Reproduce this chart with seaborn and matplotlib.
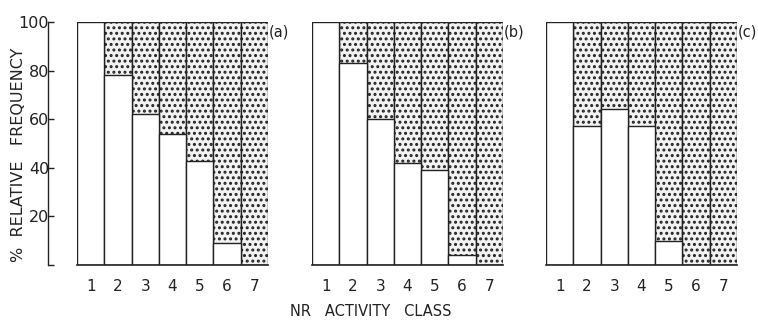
import matplotlib
matplotlib.use("Agg")
import matplotlib.pyplot as plt
import seaborn as sns
import pandas as pd

classes = ["1", "2", "3", "4", "5", "6", "7"]
panel_labels = ["(a)", "(b)", "(c)"]
white_a = [100, 78, 62, 54, 43, 9, 0]
white_b = [100, 83, 60, 42, 39, 4, 0]
white_c = [100, 57, 64, 57, 10, 0, 0]
total = [100, 100, 100, 100, 100, 100, 100]
yticks = [0, 20, 40, 60, 80, 100]
ytick_labels = ["", "20", "40", "60", "80", "100"]

sns.set_theme(style="white")
plt.rcParams["font.family"] = ["DejaVu Sans"]
plt.rcParams["hatch.linewidth"] = 1.4

fig = plt.figure(figsize=(7.58, 3.21), dpi=100)
lefts = [77 / 758, 312 / 758, 546 / 758]
width = 191 / 758
bottom = 1 - 265 / 321
height = (265 - 22) / 321

for i, (vals, lab) in enumerate(zip([white_a, white_b, white_c], panel_labels)):
    ax = fig.add_axes([lefts[i], bottom, width, height])
    df = pd.DataFrame({"cls": classes, "white": vals, "total": total})
    sns.barplot(data=df, x="cls", y="total", ax=ax, color="white",
                edgecolor="#222222", linewidth=1.0, width=1.0, saturation=1)
    n = len(ax.patches)
    for p in ax.patches:
        p.set_hatch("...")
        p.set_facecolor("#f2f2f2")
    sns.barplot(data=df, x="cls", y="white", ax=ax, color="white",
                edgecolor="#222222", linewidth=1.0, width=1.0, saturation=1)
    for p in ax.patches[n:]:
        p.set_facecolor("white")
        p.set_hatch("")
    ax.set_ylim(0, 100)
    ax.set_xlim(-0.5, 6.5)
    ax.set_xlabel("")
    ax.set_ylabel("")
    ax.tick_params(axis="x", length=0, pad=10, labelsize=11, colors="#222222")
    for s in ["top", "right", "bottom", "left"]:
        ax.spines[s].set_visible(False)
    ax.spines["bottom"].set_visible(True)
    ax.spines["bottom"].set_color("#222222")
    ax.spines["bottom"].set_linewidth(1.2)
    ax.text(1.005, 0.99, lab, transform=ax.transAxes, ha="left", va="top",
            fontsize=10.5, color="#222222")
    if i == 0:
        ax.spines["left"].set_visible(True)
        ax.spines["left"].set_position(("outward", 21))
        ax.spines["left"].set_color("#222222")
        ax.spines["left"].set_linewidth(1.0)
        ax.set_yticks(yticks)
        ax.set_yticklabels(ytick_labels)
        ax.tick_params(axis="y", left=True, direction="in", length=4, width=1.0,
                       pad=-1, labelsize=11.5, colors="#222222")
    else:
        ax.set_yticks([])

fig.text(19 / 758, 1 - 155 / 321, "%  RELATIVE   FREQUENCY", rotation=90,
         ha="center", va="center", fontsize=11.5, color="#222222")
fig.text(371 / 758, 1 - 312 / 321, "NR   ACTIVITY   CLASS", ha="center",
         va="center", fontsize=10.5, color="#222222")

fig.savefig("out.png", dpi=100)
